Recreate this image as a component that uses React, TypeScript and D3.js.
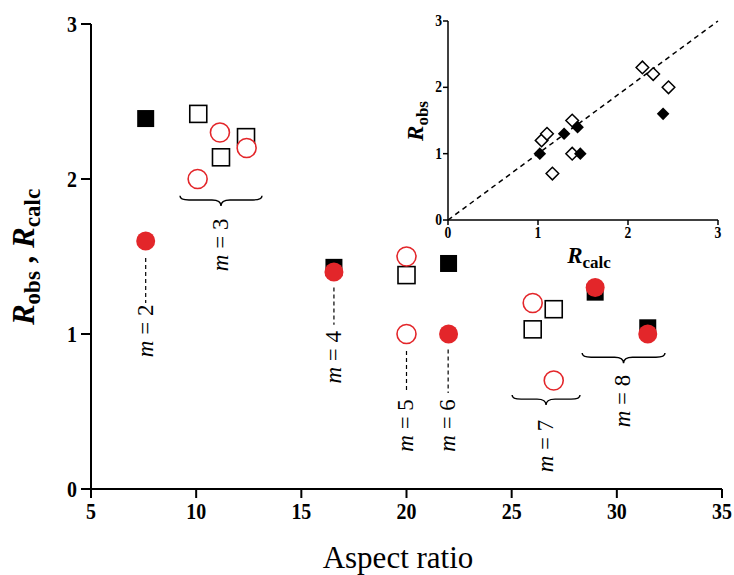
import React from "react";
import * as d3 from "d3";

// main panel: aspect ratio vs R
const xTicks = [5, 10, 15, 20, 25, 30, 35];
const yTicks = [0, 1, 2, 3];
const insetTicks = [0, 1, 2, 3];

// R_calc (filled squares) and R_obs (filled circles) for the single-m rods
const calcSquares: [number, number][] = [
  [7.6, 2.39], [16.55, 1.43], [22.0, 1.455], [28.97, 1.27], [31.47, 1.04],
];
const obsCircles: [number, number][] = [
  [7.6, 1.6], [16.55, 1.4], [22.0, 1.0], [28.97, 1.3], [31.47, 1.0],
];
// open symbols
const calcOpen: [number, number][] = [
  [10.1, 2.42], [11.18, 2.14], [12.37, 2.27], [20.0, 1.38], [26.0, 1.03], [27.0, 1.16],
];
const obsOpen: [number, number][] = [
  [10.07, 2.0], [11.13, 2.3], [12.4, 2.2], [20.0, 1.5], [20.0, 1.0], [26.0, 1.2], [27.0, 0.7],
];

// inset: R_obs vs R_calc
const insetOpen: [number, number][] = [
  [1.04, 1.2], [1.1, 1.3], [1.38, 1.5], [1.38, 1.0], [1.16, 0.7], [2.16, 2.3], [2.28, 2.2], [2.45, 2.0],
];
const insetFilled: [number, number][] = [
  [1.02, 1.0], [1.29, 1.3], [1.44, 1.4], [1.47, 1.0], [2.39, 1.6],
];

// labels for the m groups (placement in data units)
const dashedNotes = [
  { m: "2", x: 7.6, from: 1.49, to: 1.2, textY: 1.02 },
  { m: "4", x: 16.55, from: 1.3, to: 1.06, textY: 0.85 },
  { m: "5", x: 20.0, from: 0.89, to: 0.62, textY: 0.41 },
  { m: "6", x: 21.98, from: 0.9, to: 0.62, textY: 0.41 },
];
const braceNotes = [
  { m: "3", x1: 9.23, x2: 13.13, y: 1.865, textY: 1.575 },
  { m: "7", x1: 25.02, x2: 28.25, y: 0.58, textY: 0.277 },
  { m: "8", x1: 28.35, x2: 32.29, y: 0.85, textY: 0.568 },
];

const RED = "#e3262a";
const SERIF = "Liberation Serif, Times New Roman, serif";

function bracePath(x1: number, x2: number, y: number, h: number) {
  const xm = (x1 + x2) / 2;
  return `M${x1},${y - h * 0.7} Q${x1},${y} ${x1 + h * 1.5},${y} L${xm - h * 1.5},${y} Q${xm},${y} ${xm},${y + h} Q${xm},${y} ${xm + h * 1.5},${y} L${x2 - h * 1.5},${y} Q${x2},${y} ${x2},${y - h * 0.7}`;
}

export default function App() {
  const x = d3.scaleLinear().domain([5, 35]).range([91, 722]);
  const y = d3.scaleLinear().domain([0, 3]).range([489, 24]);

  const ix = d3.scaleLinear().domain([0, 3]).range([448, 718]);
  const iy = d3.scaleLinear().domain([0, 3]).range([220, 21]);

  const sq = 17;
  const r = 9.5;
  const diamond = (cx: number, cy: number) =>
    `M${cx},${cy - 6.3} L${cx + 6.3},${cy} L${cx},${cy + 6.3} L${cx - 6.3},${cy} Z`;

  const mText = (m: string, cx: number, cy: number, key: string) => (
    <text
      key={key}
      transform={`translate(${cx},${cy}) rotate(-90)`}
      textAnchor="middle"
      dy="0.3em"
      style={{ fontFamily: SERIF, fontSize: 23 }}
    >
      <tspan fontStyle="italic">m</tspan>
      {" = " + m}
    </text>
  );

  return (
    <svg
      width={734}
      height={575}
      viewBox="0 0 734 575"
      style={{ position: "absolute", left: 0, top: 0, background: "#fff", fontFamily: SERIF }}
    >
      {/* main axes */}
      <g stroke="#000" strokeWidth={2} fill="none">
        <line x1={x(5)} x2={x(35)} y1={y(0)} y2={y(0)} />
        <line x1={x(5)} x2={x(5)} y1={y(0)} y2={y(3)} />
        {xTicks.map((t) => (
          <line key={"xt" + t} x1={x(t)} x2={x(t)} y1={y(0)} y2={y(0) + 9} />
        ))}
        {yTicks.map((t) => (
          <line key={"yt" + t} x1={x(5) - 10} x2={x(5)} y1={y(t)} y2={y(t)} />
        ))}
      </g>
      <g style={{ fontFamily: SERIF, fontWeight: "bold", fontSize: 24 }}>
        {xTicks.map((t) => (
          <text
            key={"xl" + t}
            transform={`translate(${x(t)},${y(0) + 30}) scale(0.83,1)`}
            textAnchor="middle"
          >
            {t}
          </text>
        ))}
        {yTicks.map((t) => (
          <text
            key={"yl" + t}
            transform={`translate(${x(5) - 14},${y(t) + 8}) scale(0.83,1)`}
            textAnchor="end"
          >
            {t}
          </text>
        ))}
      </g>
      <text x={398} y={568} textAnchor="middle" style={{ fontFamily: SERIF, fontSize: 31 }}>
        Aspect ratio
      </text>
      <text
        transform="translate(34,257) rotate(-90)"
        textAnchor="middle"
        style={{ fontFamily: SERIF, fontWeight: "bold", fontSize: 31 }}
      >
        <tspan fontStyle="italic">R</tspan>
        <tspan fontSize={23} dy={6}>obs</tspan>
        <tspan dy={-6}>{" , "}</tspan>
        <tspan fontStyle="italic">R</tspan>
        <tspan fontSize={23} dy={6}>calc</tspan>
      </text>

      {/* annotations */}
      <g stroke="#000" strokeWidth={1.2} fill="none">
        {dashedNotes.map((d) => (
          <line
            key={"dl" + d.m}
            x1={x(d.x)}
            x2={x(d.x)}
            y1={y(d.from)}
            y2={y(d.to)}
            strokeDasharray="4,3"
          />
        ))}
        {braceNotes.map((d) => (
          <path key={"br" + d.m} d={bracePath(x(d.x1), x(d.x2), y(d.y), 6)} strokeWidth={1.4} />
        ))}
      </g>
      {dashedNotes.map((d) => mText(d.m, x(d.x), y(d.textY), "dt" + d.m))}
      {braceNotes.map((d) => mText(d.m, (x(d.x1) + x(d.x2)) / 2, y(d.textY), "bt" + d.m))}

      {/* main points */}
      {calcOpen.map(([a, b], i) => (
        <rect
          key={"co" + i}
          x={x(a) - sq / 2}
          y={y(b) - sq / 2}
          width={sq}
          height={sq}
          fill="#fff"
          stroke="#000"
          strokeWidth={1.6}
        />
      ))}
      {obsOpen.map(([a, b], i) => (
        <circle key={"oo" + i} cx={x(a)} cy={y(b)} r={r} fill="#fff" stroke={RED} strokeWidth={1.6} />
      ))}
      {calcSquares.map(([a, b], i) => (
        <rect key={"cs" + i} x={x(a) - sq / 2} y={y(b) - sq / 2} width={sq} height={sq} fill="#000" />
      ))}
      {obsCircles.map(([a, b], i) => (
        <circle key={"oc" + i} cx={x(a)} cy={y(b)} r={r} fill={RED} />
      ))}

      {/* inset */}
      <line
        x1={ix(0)}
        y1={iy(0)}
        x2={ix(3)}
        y2={iy(3)}
        stroke="#000"
        strokeWidth={1.5}
        strokeDasharray="5,4"
      />
      <g stroke="#000" strokeWidth={1.5}>
        <line x1={ix(0)} x2={ix(3)} y1={iy(0)} y2={iy(0)} />
        <line x1={ix(0)} x2={ix(0)} y1={iy(0)} y2={iy(3)} />
        {insetTicks.map((t) => (
          <line key={"ixt" + t} x1={ix(t)} x2={ix(t)} y1={iy(0)} y2={iy(0) + 5} />
        ))}
        {insetTicks.map((t) => (
          <line key={"iyt" + t} x1={ix(0) - 5} x2={ix(0)} y1={iy(t)} y2={iy(t)} />
        ))}
      </g>
      <g style={{ fontFamily: SERIF, fontWeight: "bold", fontSize: 16 }}>
        {insetTicks.map((t) => (
          <text
            key={"ixl" + t}
            transform={`translate(${ix(t)},${iy(0) + 18}) scale(0.85,1)`}
            textAnchor="middle"
          >
            {t}
          </text>
        ))}
        {insetTicks.map((t) => (
          <text
            key={"iyl" + t}
            transform={`translate(${ix(0) - 6},${iy(t) + 5}) scale(0.85,1)`}
            textAnchor="end"
          >
            {t}
          </text>
        ))}
      </g>
      <text
        transform="translate(423,121) rotate(-90)"
        textAnchor="middle"
        style={{ fontFamily: SERIF, fontWeight: "bold", fontSize: 23 }}
      >
        <tspan fontStyle="italic">R</tspan>
        <tspan fontSize={17} dy={5}>obs</tspan>
      </text>
      <text
        x={589}
        y={263}
        textAnchor="middle"
        style={{ fontFamily: SERIF, fontWeight: "bold", fontSize: 23 }}
      >
        <tspan fontStyle="italic">R</tspan>
        <tspan fontSize={17} dy={5}>calc</tspan>
      </text>
      {insetOpen.map(([a, b], i) => (
        <path key={"io" + i} d={diamond(ix(a), iy(b))} fill="#fff" stroke="#000" strokeWidth={1.5} />
      ))}
      {insetFilled.map(([a, b], i) => (
        <path key={"if" + i} d={diamond(ix(a), iy(b))} fill="#000" />
      ))}
    </svg>
  );
}
